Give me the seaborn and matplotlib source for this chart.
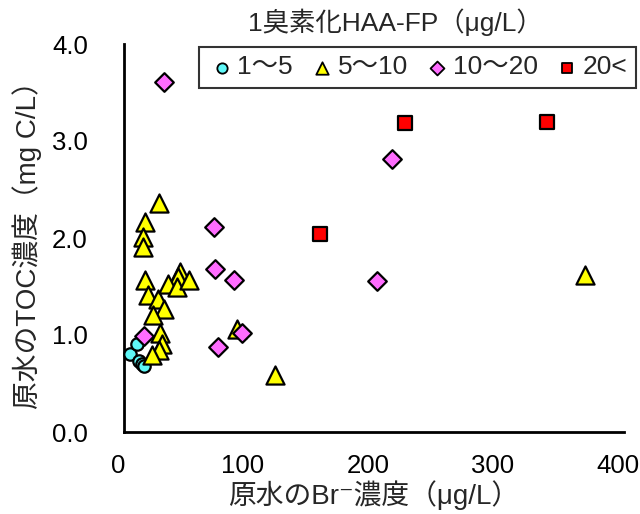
"""
Scatter of raw water TOC vs bromide, grouped by mono-bromo HAA-FP class.
"""

import matplotlib
matplotlib.use("Agg")
import matplotlib.pyplot as plt
import matplotlib.transforms as mtransforms
import pandas as pd
import seaborn as sns
from matplotlib.ticker import MultipleLocator

# 1~5
br_1_5 = [5, 10, 12, 14, 16]
toc_1_5 = [0.80, 0.91, 0.73, 0.70, 0.68]

# 5~10
br_5_10 = [28, 17, 15, 15, 17, 19, 27, 32, 23, 29, 30, 28, 22,
           45, 43, 35, 42, 52, 90, 121, 369]
toc_5_10 = [2.36, 2.17, 2.01, 1.91, 1.57, 1.41, 1.37, 1.27, 1.21, 1.02, 0.91, 0.85, 0.79,
            1.65, 1.60, 1.53, 1.50, 1.57, 1.06, 0.59, 1.62]

# 10~20
br_10_20 = [32, 72, 73, 88, 94, 75, 16, 214, 202]
toc_10_20 = [3.61, 2.11, 1.68, 1.57, 1.02, 0.88, 0.99, 2.81, 1.56]

# 20<
br_20 = [225, 338, 157]
toc_20 = [3.19, 3.20, 2.04]

groups = ["1～5", "5～10", "10～20", "20<"]
colors = ["#5FF7F7", "#FFFF00", "#FF6CFF", "#FF0000"]
markers = ["o", "^", "D", "s"]
sizes = [80, 170, 90, 95]
legend_sizes = [55, 80, 50, 50]


def main():
    sns.set_style("white")
    plt.rcParams["font.family"] = ["Liberation Sans", "Noto Sans CJK JP", "DejaVu Sans"]

    df = pd.concat([
        pd.DataFrame({"br": br_1_5, "toc": toc_1_5, "grp": groups[0]}),
        pd.DataFrame({"br": br_5_10, "toc": toc_5_10, "grp": groups[1]}),
        pd.DataFrame({"br": br_10_20, "toc": toc_10_20, "grp": groups[2]}),
        pd.DataFrame({"br": br_20, "toc": toc_20, "grp": groups[3]}),
    ])

    fig = plt.figure(figsize=(6.4, 5.14), dpi=100)
    ax = fig.add_axes([124 / 640, 82 / 514, 500 / 640, 388 / 514])

    for g, c, m, s in zip(groups, colors, markers, sizes):
        sub = df[df["grp"] == g]
        sns.scatterplot(data=sub, x="br", y="toc", ax=ax, color=c, marker=m, s=s,
                        edgecolor="black", linewidth=1.6, label=g, zorder=3,
                        clip_on=False)

    ax.set_xlim(0, 400)
    ax.set_ylim(0, 4.0)
    ax.xaxis.set_major_locator(MultipleLocator(100))
    ax.xaxis.set_minor_locator(MultipleLocator(20))
    ax.yaxis.set_major_locator(MultipleLocator(1.0))
    ax.yaxis.set_minor_locator(MultipleLocator(0.2))
    ax.yaxis.set_major_formatter(lambda v, p: f"{v:.1f}")
    ax.tick_params(axis="both", which="both", direction="in", width=1.5,
                   labelsize=18.5, colors="black")
    ax.tick_params(axis="x", which="major", length=7, pad=16)
    ax.tick_params(axis="x", which="minor", length=5)
    ax.tick_params(axis="y", which="both", length=6, pad=26)

    # Excel-like: x tick labels sit slightly left of their ticks
    offset = mtransforms.ScaledTranslation(-6 / 100, 0, fig.dpi_scale_trans)
    for lab in ax.xaxis.get_majorticklabels():
        lab.set_transform(lab.get_transform() + offset)

    for side in ["top", "right"]:
        ax.spines[side].set_visible(False)
    for side in ["left", "bottom"]:
        ax.spines[side].set_color("black")
        ax.spines[side].set_linewidth(2)

    ax.set_xlabel("原水のBr⁻濃度（μg/L）", fontsize=20)
    ax.set_ylabel("原水のTOC濃度（mg C/L）", fontsize=20)
    ax.xaxis.set_label_coords(0.5, -0.125)
    ax.yaxis.set_label_coords(-0.163, 0.5)

    leg = ax.legend(loc="upper right", bbox_to_anchor=(636 / 640, 1 - 47 / 514),
                    bbox_transform=fig.transFigure, ncol=4, fontsize=19,
                    frameon=True, fancybox=False, edgecolor="black",
                    markerscale=1, handlelength=1.1, handletextpad=0.05,
                    columnspacing=0.55, borderpad=0.32, borderaxespad=0)
    leg.get_frame().set_linewidth(1.5)
    for h, ls in zip(leg.legend_handles, legend_sizes):
        h.set_sizes([ls])
        h.set_linewidth(1.3)

    fig.text(395 / 640, 1 - 22 / 514, "1臭素化HAA-FP（μg/L）", fontsize=19,
             ha="center", va="center")

    fig.savefig("out.png", dpi=100)


if __name__ == "__main__":
    main()
